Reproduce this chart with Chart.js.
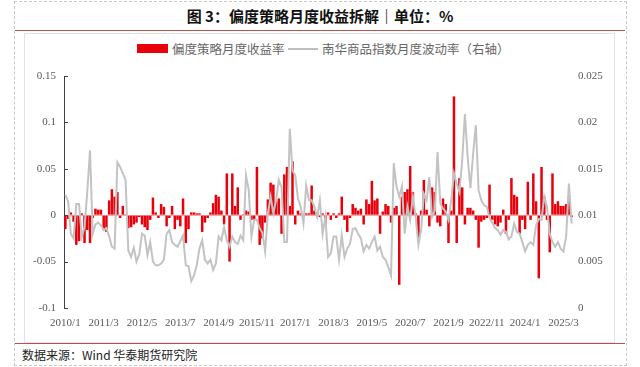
<!DOCTYPE html>
<html>
<head>
<meta charset="utf-8">
<script src="https://cdn.jsdelivr.net/npm/chart.js@4.4.1/dist/chart.umd.min.js"></script>
<style>
  body { margin: 0; background: #fff; }
  #wrap { position: relative; width: 640px; height: 367px; overflow: hidden; font-family: "Noto Sans CJK SC", sans-serif; }
  #outer { position: absolute; left: 14px; top: 1px; width: 611px; height: 363px; border: 1px dashed #c8c8c8; }
  #title { position: absolute; left: 0; top: 5px; width: 640px; text-align: center; font-weight: 700; font-size: 15px; color: #111; }
  .rule { position: absolute; left: 15px; width: 610px; height: 0; border-top: 1.5px solid #b5524c; }
  #inner { position: absolute; left: 24px; top: 33px; width: 589px; height: 308px; border: 1px solid #e3e3e3; }
  #source { position: absolute; left: 22px; top: 346px; font-size: 12px; color: #222; }
  .leg { position: absolute; font-size: 12.5px; color: #666; font-family: "Liberation Serif", "Noto Sans CJK SC", serif; }
  canvas { position: absolute; left: 0; top: 0; }
</style>
</head>
<body>
<div id="wrap">
  <div id="outer"></div>
  <div id="title">图 3：偏度策略月度收益拆解｜单位：%</div>
  <div class="rule" style="top:30px"></div>
  <div id="inner"></div>
  <div style="position:absolute;left:137px;top:44px;width:31px;height:9px;background:#e8000b"></div>
  <div class="leg" style="left:172px;top:39px">偏度策略月度收益率</div>
  <div style="position:absolute;left:288px;top:48px;width:30px;height:2px;background:#bfbfbf"></div>
  <div class="leg" style="left:322px;top:39px">南华商品指数月度波动率（右轴）</div>
  <div class="rule" style="top:343px"></div>
  <div id="source">数据来源：Wind 华泰期货研究院</div>
  <canvas id="chart-combo" width="640" height="367"></canvas>
</div>
<script>
// monthly categories 2010/1 .. 2025/6
var months = [];
for (var y = 2010; y <= 2025; y++) {
  for (var m = 1; m <= 12; m++) {
    if (y === 2025 && m > 6) break;
    months.push(y + "/" + m);
  }
}

// 偏度策略月度收益率 (left axis), one row per year
var skewReturn = [
  -0.015, -0.004, 0.003, -0.007, -0.032, -0.028, 0.002, -0.030, -0.016, -0.030, -0.003, 0.007,
  0.006, 0.006, -0.015, -0.018, 0.016, 0.028, 0.020, 0.025, -0.003, 0.010, 0.001, -0.014,
  -0.013, -0.010, -0.008, -0.002, -0.010, -0.013, -0.016, -0.005, 0.019, 0.003, -0.003, 0.012,
  0.009, -0.012, -0.003, 0.010, -0.015, -0.005, -0.012, 0.018, -0.030, -0.015, 0.003, 0.003,
  0.002, 0.002, -0.018, -0.008, -0.003, 0.003, 0.013, 0.022, 0.020, 0.005, -0.010, 0.045,
  -0.050, 0.045, 0.010, 0.030, -0.005, 0.001, 0.005, 0.004, -0.005, -0.005, 0.052, -0.032,
  -0.025, -0.008, 0.017, 0.035, 0.033, 0.015, 0.018, -0.020, 0.044, 0.052, 0.010, 0.058,
  -0.010, 0.005, 0.002, 0.001, 0.002, 0.002, 0.032, 0.005, 0.003, -0.002, 0.002, -0.010,
  0.003, -0.005, 0.002, -0.003, 0.002, 0.020, -0.005, -0.018, -0.003, 0.012, 0.008, 0.005,
  0.007, -0.010, 0.017, 0.012, 0.037, 0.016, 0.018, -0.020, 0.004, 0.012, 0.010, -0.008,
  0.008, 0.010, -0.075, 0.020, 0.025, 0.028, 0.053, 0.025, 0.002, -0.028, 0.005, 0.038,
  0.006, -0.012, 0.030, 0.025, -0.008, -0.012, 0.018, 0.012, -0.030, 0.005, 0.128, -0.030,
  0.040, 0.030, -0.010, 0.008, 0.008, 0.005, -0.005, -0.035, -0.007, -0.005, -0.003, 0.033,
  -0.005, -0.010, -0.012, -0.008, 0.006, -0.020, -0.005, 0.040, 0.022, 0.020, -0.020, -0.005,
  -0.015, 0.036, -0.005, 0.045, 0.015, -0.068, 0.052, 0.020, -0.005, -0.040, 0.045, 0.012,
  0.015, 0.010, 0.010, 0.012, 0.020, -0.002
];

// 南华商品指数月度波动率 (right axis)
var nanhuaVol = [
  0.0122, 0.0115, 0.0080, 0.0075, 0.0112, 0.0112, 0.0077, 0.0087, 0.0125, 0.0170, 0.0080, 0.0090,
  0.0092, 0.0089, 0.0084, 0.0086, 0.0077, 0.0066, 0.0064, 0.0157, 0.0152, 0.0145, 0.0138, 0.0062,
  0.0055, 0.0065, 0.0050, 0.0058, 0.0080, 0.0078, 0.0057, 0.0071, 0.0050, 0.0046, 0.0046, 0.0048,
  0.0052, 0.0080, 0.0084, 0.0071, 0.0068, 0.0066, 0.0072, 0.0078, 0.0046, 0.0045, 0.0029, 0.0035,
  0.0046, 0.0064, 0.0073, 0.0052, 0.0048, 0.0052, 0.0041, 0.0048, 0.0077, 0.0073, 0.0087, 0.0073,
  0.0066, 0.0077, 0.0071, 0.0069, 0.0078, 0.0073, 0.0143, 0.0127, 0.0077, 0.0095, 0.0095, 0.0086,
  0.0081, 0.0061, 0.0102, 0.0120, 0.0102, 0.0116, 0.0138, 0.0130, 0.0071, 0.0071, 0.0193, 0.0148,
  0.0143, 0.0118, 0.0109, 0.0091, 0.0132, 0.0116, 0.0116, 0.0109, 0.0098, 0.0116, 0.0080, 0.0098,
  0.0055, 0.0059, 0.0077, 0.0077, 0.0052, 0.0078, 0.0055, 0.0064, 0.0069, 0.0085, 0.0086, 0.0080,
  0.0075, 0.0061, 0.0068, 0.0064, 0.0071, 0.0077, 0.0062, 0.0066, 0.0055, 0.0052, 0.0044, 0.0035,
  0.0156, 0.0131, 0.0120, 0.0131, 0.0080, 0.0109, 0.0095, 0.0120, 0.0098, 0.0068, 0.0084, 0.0123,
  0.0116, 0.0141, 0.0098, 0.0105, 0.0168, 0.0113, 0.0107, 0.0104, 0.0095, 0.0116, 0.0145, 0.0134,
  0.0125, 0.0159, 0.0209, 0.0163, 0.0129, 0.0166, 0.0197, 0.0127, 0.0116, 0.0111, 0.0109, 0.0097,
  0.0092, 0.0086, 0.0084, 0.0079, 0.0084, 0.0082, 0.0074, 0.0077, 0.0091, 0.0082, 0.0080, 0.0071,
  0.0061, 0.0068, 0.0071, 0.0068, 0.0089, 0.0096, 0.0095, 0.0120, 0.0109, 0.0080, 0.0071, 0.0066,
  0.0071, 0.0064, 0.0061, 0.0077, 0.0134, 0.0091
];

// axis ranges / tick steps
var leftTicks = [-0.1, 0.15, 0.05];
var rightTicks = [0, 0.025, 0.005];
var labelEvery = 14;

var tickFont = { family: "Liberation Serif", size: 11 };

function fmt(v) {
  return String(Math.round(v * 1000) / 1000);
}

// small tick marks on the inner side of the left axis
var innerTicks = {
  id: "innerTicks",
  afterDraw: function (chart) {
    var s = chart.scales.y;
    var c = chart.ctx;
    c.save();
    c.strokeStyle = "#404040";
    c.lineWidth = 1;
    s.ticks.forEach(function (t) {
      var py = Math.round(s.getPixelForValue(t.value)) + 0.5;
      c.beginPath();
      c.moveTo(s.right, py);
      c.lineTo(s.right + 4, py);
      c.stroke();
    });
    c.restore();
  },
};

var ctx = document.getElementById("chart-combo").getContext("2d");

new Chart(ctx, {
  type: "bar",
  data: {
    labels: months,
    datasets: [
      {
        label: "偏度策略月度收益率",
        data: skewReturn,
        yAxisID: "y",
        backgroundColor: "#e8000b",
        borderWidth: 0,
        categoryPercentage: 1.0,
        barPercentage: 0.92,
        order: 2,
      },
      {
        type: "line",
        label: "南华商品指数月度波动率（右轴）",
        data: nanhuaVol,
        yAxisID: "y1",
        borderColor: "#c3c3c3",
        borderWidth: 2,
        pointRadius: 0,
        tension: 0,
        fill: false,
        order: 1,
      },
    ],
  },
  options: {
    responsive: false,
    animation: false,
    devicePixelRatio: 1,
    layout: { padding: { top: 76, left: 0, right: 0, bottom: 0 } },
    plugins: {
      legend: { display: false },
      tooltip: { enabled: false },
    },
    scales: {
      x: {
        type: "category",
        offset: true,
        grid: { display: false },
        border: { display: false },
        ticks: {
          autoSkip: false,
          maxRotation: 0,
          minRotation: 0,
          padding: 1,
          color: "#595959",
          font: tickFont,
          callback: function (v, i) {
            return i % labelEvery === 0 ? months[i] : "";
          },
        },
        afterFit: function (s) { s.height = 59; },
      },
      y: {
        position: "left",
        min: leftTicks[0],
        max: leftTicks[1],
        grid: {
          drawTicks: false,
          color: function (c) {
            return c.tick && Math.abs(c.tick.value) < 1e-9 ? "rgba(232,0,11,0.35)" : "rgba(0,0,0,0)";
          },
        },
        border: { display: true, color: "#404040", width: 1 },
        ticks: {
          stepSize: leftTicks[2],
          padding: 8,
          color: "#595959",
          font: tickFont,
          callback: fmt,
        },
        afterFit: function (s) { s.width = 64; },
      },
      y1: {
        position: "right",
        min: rightTicks[0],
        max: rightTicks[1],
        grid: { display: false, drawTicks: false },
        border: { display: false },
        ticks: {
          stepSize: rightTicks[2],
          padding: 5,
          color: "#595959",
          font: tickFont,
          callback: fmt,
        },
        afterFit: function (s) { s.width = 67; },
      },
    },
  },
  plugins: [innerTicks],
});
</script>
</body>
</html>
